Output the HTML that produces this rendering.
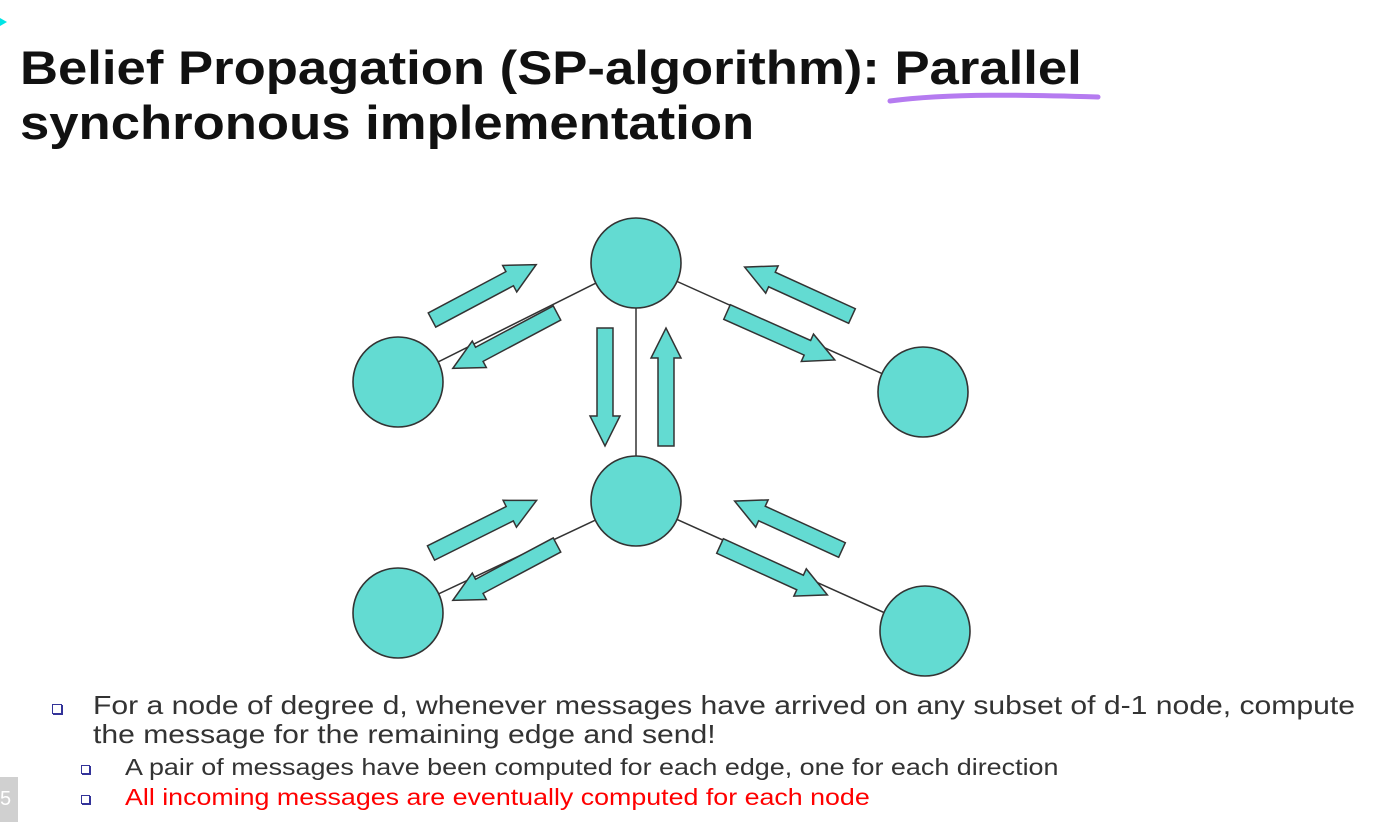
<!DOCTYPE html>
<html><head><meta charset="utf-8"><style>
body{margin:0;width:1383px;height:822px;background:#fff;overflow:hidden;position:relative;font-family:"Liberation Sans",Arial,sans-serif}
.t{position:absolute;left:20px;font-weight:bold;font-size:47px;color:#111;white-space:nowrap;transform:scaleX(1.12);transform-origin:0 0}
.b{position:absolute;white-space:nowrap;color:#333;transform-origin:0 0}
.sq{position:absolute;width:8px;height:8px;border:1px solid #333399;background:#fff;box-shadow:1px 1px 0 #333399}
</style></head><body>
<div class="t" style="top:40px">Belief Propagation (SP-algorithm): Parallel</div>
<div class="t" style="top:95px">synchronous implementation</div>
<svg style="position:absolute;left:0;top:0" width="1383" height="822">
<polygon points="0,18 7,22 0,26" fill="#00e5e5"/>
<path d="M890,101 C950,93 1030,95 1098,97" stroke="#b57bf0" stroke-width="5" fill="none" stroke-linecap="round"/>
<g stroke="#333" stroke-width="1.5">
<line x1="636" y1="263" x2="398" y2="382"/><line x1="636" y1="263" x2="923" y2="392"/>
<line x1="636" y1="263" x2="636" y2="501"/><line x1="636" y1="501" x2="398" y2="613"/>
<line x1="636" y1="501" x2="925" y2="631"/>
</g>
<g fill="#63dbd2" stroke="#333" stroke-width="1.6">
<circle cx="636" cy="263" r="45"/><circle cx="398" cy="382" r="45"/><circle cx="923" cy="392" r="45"/>
<circle cx="636" cy="501" r="45"/><circle cx="398" cy="613" r="45"/><circle cx="925" cy="631" r="45"/>
</g>
<defs><polygon id="a" points="0,-8 88,-8 88,-15 118,0 88,15 88,8 0,8"/></defs>
<g fill="#63dbd2" stroke="#333" stroke-width="1.5">
<use href="#a" transform="translate(432,320) rotate(-28)"/>
<use href="#a" transform="translate(557,313) rotate(152)"/>
<use href="#a" transform="translate(605,328) rotate(90)"/>
<use href="#a" transform="translate(666,446) rotate(-90)"/>
<use href="#a" transform="translate(852,316) rotate(-155.5)"/>
<use href="#a" transform="translate(727,312) rotate(24)"/>
<use href="#a" transform="translate(431,553) rotate(-26.5)"/>
<use href="#a" transform="translate(557,545) rotate(152)"/>
<use href="#a" transform="translate(842,550) rotate(-155.5)"/>
<use href="#a" transform="translate(720,546) rotate(24.5)"/>
</g>
</svg>
<div class="sq" style="left:52px;top:704px"></div>
<div class="b" style="left:93px;top:691px;font-size:26px;line-height:29px;transform:scaleX(1.158)">For a node of degree d, whenever messages have arrived on any subset of d-1 node, compute<br>the message for the remaining edge and send!</div>
<div class="sq" style="left:81px;top:765px;width:7px;height:7px"></div>
<div class="b" style="left:125px;top:754px;font-size:23px;transform:scaleX(1.17)">A pair of messages have been computed for each edge, one for each direction</div>
<div class="sq" style="left:81px;top:795px;width:7px;height:7px"></div>
<div class="b" style="left:125px;top:784px;font-size:23px;color:#f00;transform:scaleX(1.165)">All incoming messages are eventually computed for each node</div>
<div style="position:absolute;left:0;top:777px;width:18px;height:45px;background:#d0d0d0;color:#fff;font-size:20px;line-height:45px">5</div>
</body></html>
